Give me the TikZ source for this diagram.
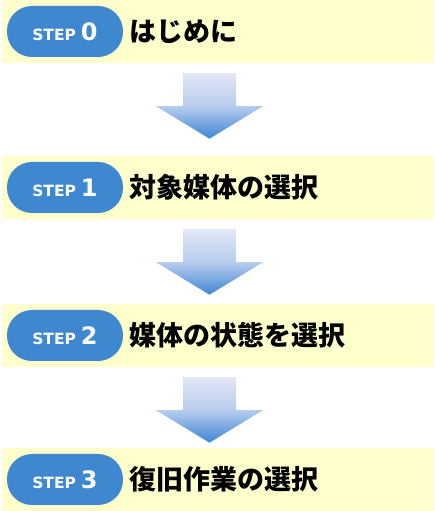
\documentclass[tikz,border=0pt]{standalone}
\usepackage{fontspec}
\newfontfamily\jpfont{Noto Sans CJK JP}
\newfontfamily\stepfont{DejaVu Sans}
\usetikzlibrary{positioning,calc}
\definecolor{bandyellow}{RGB}{255,255,204}
\definecolor{stepblue}{RGB}{61,136,206}
\definecolor{arrowtop}{RGB}{226,231,245}
\definecolor{arrowmid}{RGB}{184,205,238}
\definecolor{arrowbot}{RGB}{63,133,210}

\begin{document}
\begin{tikzpicture}[x=1pt, y=1pt,
    band/.style={fill=bandyellow, minimum width=432pt, minimum height=63pt, inner sep=0pt},
    stepbox/.style={fill=stepblue, rounded corners=25pt, minimum width=116pt, minimum height=51pt, inner sep=0pt, text=white, font=\stepfont\bfseries},
    title/.style={font=\jpfont\bfseries\fontsize{27}{27}\selectfont, inner sep=0pt, anchor=west},
    downarrow/.pic={\shade[top color=arrowtop, bottom color=arrowbot, middle color=arrowmid]
        (-26.5,0) -- (26.5,0) -- (26.5,-33) -- (53.5,-33) -- (0,-65.5) -- (-53.5,-33) -- (-26.5,-33) -- cycle;}]
    \useasboundingbox (0,0) rectangle (434,511);

    % Steps
    \foreach \n/\y/\txt in {0/479.5/はじめに, 1/323.5/対象媒体の選択, 2/175.5/媒体の状態を選択, 3/31.5/復旧作業の選択} {
        \node[band] (band\n) at (218,\y) {};
        \node[stepbox, right=5pt of band\n.west] (pill\n) {{\fontsize{15.5}{15}\selectfont STEP}\hspace{1.5pt} {\fontsize{24}{24}\selectfont \n}};
        \node[title, right=6pt of pill\n.east] (title\n) {\txt};
    }

    % Arrows between steps
    \foreach \n in {0,1,2}
        \pic at ([xshift=-8.5pt,yshift=-10pt]band\n.south) {downarrow};
\end{tikzpicture}
\end{document}
